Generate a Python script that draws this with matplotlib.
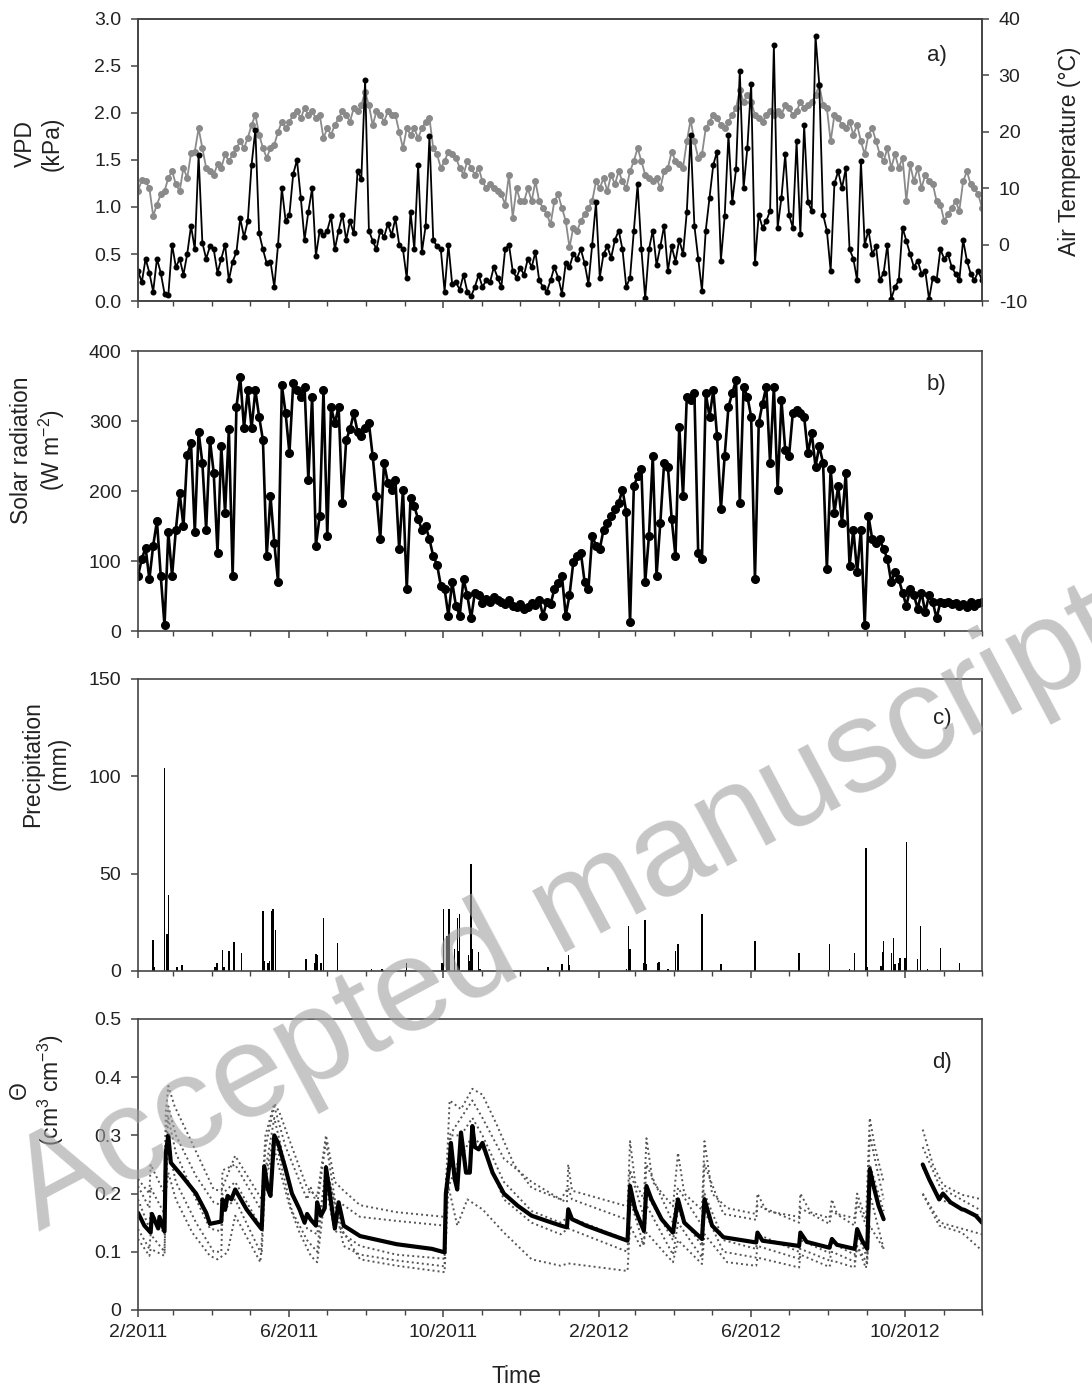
import numpy as np
import matplotlib
matplotlib.use("Agg")
import matplotlib.pyplot as plt
import matplotlib.dates as mdates
from matplotlib.ticker import FixedLocator, FuncFormatter

plt.rcParams['font.family'] = ['Liberation Sans', 'DejaVu Sans']
plt.rcParams['axes.unicode_minus'] = False
plt.rcParams['mathtext.fontset'] = 'custom'
plt.rcParams['mathtext.rm'] = 'Liberation Sans'
plt.rcParams['mathtext.it'] = 'Liberation Sans:italic'
nan = float('nan')

START = np.datetime64('2011-02-01')
END = np.datetime64('2012-12-01')

# ---------------- meteorological series (every 3rd day from 1 Feb 2011) -------------
met_days = list(range(0, 670, 3))

vpd = [0.32, 0.20, 0.45, 0.30, 0.10, 0.45, 0.30, 0.08, 0.06, 0.60,
       0.36, 0.45, 0.28, 0.50, 0.80, 0.55, 1.55, 0.62, 0.45, 0.58,
       0.55, 0.30, 0.45, 0.60, 0.22, 0.42, 0.52, 0.88, 0.68, 0.85,
       1.45, 1.82, 0.72, 0.55, 0.40, 0.42, 0.15, 0.60, 1.20, 0.85,
       0.92, 1.35, 1.50, 1.10, 0.65, 0.95, 1.20, 0.48, 0.75, 0.70,
       0.75, 0.90, 0.55, 0.75, 0.92, 0.65, 0.85, 0.72, 1.38, 1.30,
       2.35, 0.75, 0.64, 0.55, 0.75, 0.68, 0.82, 0.70, 0.88, 0.60,
       0.55, 0.24, 0.95, 0.55, 1.45, 0.52, 0.80, 1.75, 0.65, 0.58,
       0.55, 0.10, 0.60, 0.18, 0.20, 0.12, 0.28, 0.10, 0.05, 0.15,
       0.28, 0.15, 0.22, 0.20, 0.36, 0.25, 0.15, 0.55, 0.60, 0.32,
       0.25, 0.35, 0.28, 0.45, 0.36, 0.52, 0.22, 0.15, 0.10, 0.22,
       0.36, 0.25, 0.08, 0.40, 0.36, 0.50, 0.45, 0.55, 0.40, 0.18,
       0.60, 1.05, 0.25, 0.50, 0.58, 0.46, 0.65, 0.75, 0.55, 0.15,
       0.25, 0.75, 1.24, 0.55, 0.03, 0.55, 0.75, 0.38, 0.58, 0.80,
       0.32, 0.58, 0.42, 0.65, 0.50, 0.95, 1.77, 0.80, 0.45, 0.11,
       0.75, 1.10, 1.45, 1.59, 0.43, 0.90, 1.77, 1.05, 1.40, 2.45,
       1.20, 1.63, 2.31, 0.40, 0.92, 0.78, 0.85, 0.96, 2.72, 0.78,
       1.10, 1.56, 0.92, 0.78, 1.70, 0.71, 1.87, 1.05, 0.96, 2.82,
       2.30, 0.92, 0.75, 0.32, 1.25, 1.38, 1.20, 1.41, 0.55, 0.45,
       0.22, 1.49, 0.60, 0.75, 0.50, 0.58, 0.22, 0.30, 0.60, 0.02,
       0.15, 0.22, 0.78, 0.64, 0.50, 0.36, 0.43, 0.29, 0.32, 0.02,
       0.25, 0.22, 0.55, 0.45, 0.50, 0.36, 0.29, 0.22, 0.65, 0.43,
       0.29, 0.22, 0.32, 0.22]

air_temp = [9.5, 11.5, 11.2, 10.0, 5.1, 7.1, 8.9, 9.5, 11.8, 13.0,
            10.7, 9.5, 13.6, 11.8, 16.2, 16.5, 20.6, 17.1, 13.6, 13.0,
            12.4, 14.2, 13.6, 16.0, 14.8, 16.0, 17.1, 18.3, 17.1, 18.9,
            21.2, 23.0, 19.5, 17.1, 15.4, 17.1, 17.7, 20.0, 21.8, 20.6,
            21.8, 23.0, 23.6, 22.4, 24.2, 23.0, 23.6, 22.4, 23.0, 18.9,
            20.6, 19.5, 21.2, 22.4, 23.6, 23.0, 21.8, 24.2, 23.6, 24.7,
            27.1, 24.7, 21.2, 23.6, 23.0, 21.8, 23.6, 23.0, 23.0, 20.0,
            17.1, 20.6, 19.5, 20.6, 18.9, 20.6, 21.8, 22.4, 17.1, 16.0,
            13.6, 14.8, 16.5, 16.0, 15.4, 13.6, 12.4, 14.8, 13.6, 12.4,
            13.6, 11.2, 10.0, 10.7, 10.0, 9.5, 8.9, 7.1, 12.4, 4.8,
            10.0, 7.7, 7.7, 10.0, 7.7, 11.2, 7.7, 6.5, 5.4, 3.6,
            7.7, 8.9, 6.5, 4.2, -0.5, 3.0, 2.4, 4.2, 5.4, 6.5,
            7.7, 11.2, 10.0, 11.8, 9.5, 12.4, 10.7, 13.0, 11.2, 10.0,
            13.0, 14.8, 17.1, 14.8, 12.4, 11.8, 11.2, 11.8, 10.0, 13.0,
            13.6, 16.5, 14.8, 14.2, 13.6, 18.3, 22.1, 18.3, 15.4, 16.0,
            20.6, 21.8, 23.0, 22.4, 21.2, 20.6, 21.8, 23.0, 24.2, 27.4,
            25.3, 26.5, 25.3, 23.0, 22.4, 21.8, 23.0, 23.6, 23.0, 23.6,
            23.0, 24.7, 24.2, 23.0, 23.6, 25.3, 24.2, 24.7, 25.3, 26.5,
            28.3, 24.7, 24.2, 18.3, 23.0, 22.4, 21.2, 20.6, 21.8, 19.5,
            21.2, 18.3, 16.0, 19.5, 20.6, 18.3, 16.0, 14.8, 17.1, 13.6,
            16.0, 13.6, 15.4, 7.7, 14.2, 11.2, 13.6, 10.0, 12.4, 11.2,
            10.7, 7.7, 7.1, 4.2, 5.4, 6.5, 7.7, 6.0, 11.2, 13.0,
            10.7, 10.0, 8.9, 6.5]

solar = [79, 103, 119, 74, 122, 157, 79, 8, 141, 79,
         145, 197, 150, 252, 268, 141, 285, 240, 145, 273,
         226, 112, 264, 169, 288, 79, 320, 363, 290, 344,
         290, 344, 306, 273, 107, 193, 126, 70, 351, 311,
         254, 354, 344, 335, 349, 216, 335, 122, 164, 344,
         136, 320, 297, 320, 183, 273, 288, 311, 285, 278,
         290, 297, 250, 193, 131, 240, 212, 202, 216, 117,
         202, 60, 190, 178, 160, 145, 150, 131, 107, 95,
         65, 60, 22, 70, 36, 22, 74, 51, 18, 55,
         51, 40, 46, 42, 48, 44, 41, 38, 45, 36,
         34, 38, 32, 35, 40, 37, 45, 22, 42, 38,
         60, 68, 79, 22, 51, 98, 107, 112, 70, 60,
         136, 122, 117, 145, 155, 164, 174, 183, 202, 170,
         13, 207, 221, 231, 70, 136, 250, 79, 155, 240,
         235, 160, 107, 292, 193, 335, 330, 340, 112, 103,
         340, 306, 344, 278, 174, 250, 320, 340, 358, 183,
         349, 335, 306, 74, 297, 325, 349, 240, 349, 202,
         330, 259, 250, 311, 316, 311, 306, 254, 283, 235,
         264, 240, 89, 231, 169, 207, 155, 226, 93, 145,
         84, 145, 8, 164, 131, 126, 131, 117, 103, 70,
         84, 74, 55, 36, 60, 51, 32, 55, 27, 51,
         41, 18, 42, 40, 41, 38, 40, 36, 38, 35,
         42, 36, 40, 41]

# ---------------- precipitation events ------------------------------------------
precip_days = [12, 13, 21, 23, 24, 31, 35, 61, 62, 63, 67, 68, 72, 76, 82,
               99, 100, 103, 104, 106, 107, 109, 133, 140, 141, 142, 145, 147,
               158, 185, 193, 194, 213, 241, 242, 245, 246, 247, 251, 253, 254,
               255, 262, 263, 264, 265, 270, 271, 325, 336, 341, 342, 387, 389,
               390, 401, 402, 403, 412, 413, 420, 426, 428, 447, 462, 489, 524,
               548, 564, 568, 577, 578, 589, 590, 591, 597, 599, 600, 603, 604,
               608, 609, 618, 620, 626, 636, 651]
precip_mm = [16, 2, 104, 19, 39, 2, 3, 2, 4, 4, 11, 2, 10, 15, 9,
             31, 5, 4, 5, 31, 32, 21, 6, 4, 8.5, 8, 4, 27,
             14.5, 1, 1.2, 1.2, 4, 4, 32, 18, 32, 32, 11.5, 27, 10,
             29, 8, 5, 55, 11.5, 9.5, 1, 2, 3.4, 8, 3, 1, 23,
             11.5, 4, 26, 3.4, 4, 4.6, 1, 10, 13.7, 29, 3.4, 15.4, 9,
             13.7, 1, 9, 63, 2, 2.6, 9.7, 15.4, 9, 16.8, 3.4, 3.9, 6.8,
             6.8, 66, 6.3, 23, 1, 12, 4.3]

# ---------------- soil water content ------------------------------------------
theta_mean_days = [0, 5, 10, 11, 16, 17, 21, 22, 24, 26, 35, 46, 54, 57, 66, 67, 69, 71,
                   74, 77, 86, 94, 98, 100, 103, 105, 108, 111, 117, 122, 128, 132, 134,
                   137, 141, 142, 145, 148, 149, 156, 159, 163, 176, 205, 233, 243, 244,
                   247, 248, 251, 253, 256, 260, 263, 265, 267, 270, 273, 281, 290, 301,
                   312, 324, 335, 340, 341, 344, 355, 370, 388, 390, 394, 401, 403, 407,
                   415, 424, 428, 433, 447, 449, 455, 464, 490, 491, 495, 524, 525, 530,
                   548, 550, 554, 568, 570, 574, 578, 580, 583, 587, 591, 600, 622, 627,
                   635, 638, 644, 653, 655, 664, 669]
theta_mean = [0.167, 0.145, 0.133, 0.165, 0.140, 0.160, 0.135, 0.270, 0.300, 0.253, 0.230,
              0.200, 0.167, 0.148, 0.152, 0.190, 0.172, 0.196, 0.190, 0.207, 0.173, 0.150,
              0.139, 0.247, 0.207, 0.196, 0.300, 0.287, 0.242, 0.200, 0.173, 0.150, 0.165,
              0.155, 0.145, 0.185, 0.162, 0.175, 0.245, 0.140, 0.185, 0.145, 0.127, 0.113,
              0.105, 0.099, 0.200, 0.253, 0.287, 0.225, 0.207, 0.305, 0.236, 0.236, 0.316,
              0.280, 0.276, 0.287, 0.236, 0.200, 0.179, 0.162, 0.153, 0.145, 0.142, 0.173,
              0.156, 0.145, 0.133, 0.119, 0.213, 0.173, 0.136, 0.213, 0.190, 0.156, 0.133,
              0.190, 0.150, 0.122, 0.190, 0.145, 0.125, 0.116, 0.133, 0.119, 0.110, 0.133,
              0.117, 0.107, 0.122, 0.112, 0.105, 0.139, 0.119, 0.105, 0.242, 0.213, 0.179,
              0.156, nan, 0.250, 0.225, 0.190, 0.200, 0.185, 0.173, 0.172, 0.162, 0.150]

sensor_a_days = [0, 9, 10, 21, 22, 24, 29, 40, 60, 66, 77, 98, 101, 108, 112, 122, 134, 142,
                 149, 156, 163, 176, 205, 243, 247, 256, 265, 273, 284, 298, 312, 335, 340,
                 341, 344, 388, 390, 394, 401, 403, 408, 424, 428, 433, 447, 449, 455, 467,
                 490, 491, 498, 524, 525, 533, 548, 550, 554, 568, 570, 577, 580, 584, 591,
                 600, 622, 630, 638, 653, 669]
sensor_a = [0.225, 0.200, 0.250, 0.200, 0.340, 0.385, 0.350, 0.300, 0.207, 0.205, 0.265,
            0.190, 0.300, 0.355, 0.340, 0.280, 0.210, 0.195, 0.300, 0.220, 0.205, 0.180,
            0.168, 0.160, 0.360, 0.345, 0.380, 0.370, 0.320, 0.250, 0.210, 0.190, 0.185,
            0.250, 0.205, 0.178, 0.290, 0.220, 0.190, 0.295, 0.220, 0.178, 0.270, 0.200,
            0.172, 0.290, 0.200, 0.175, 0.165, 0.200, 0.170, 0.160, 0.200, 0.168, 0.158,
            0.190, 0.165, 0.158, 0.200, 0.155, 0.330, 0.280, 0.220, nan, 0.310, 0.250,
            0.215, 0.198, 0.190]

sensor_b_days = [0, 9, 10, 21, 22, 24, 30, 46, 60, 66, 67, 77, 98, 101, 108, 117, 134, 137,
                 142, 149, 156, 163, 176, 205, 243, 247, 256, 265, 273, 290, 312, 335, 341,
                 344, 388, 390, 401, 403, 424, 428, 447, 449, 464, 490, 491, 524, 525, 548,
                 550, 568, 570, 578, 580, 591, 600, 622, 636, 669]
sensor_b = [0.213, 0.175, 0.210, 0.165, 0.300, 0.350, 0.300, 0.230, 0.185, 0.180, 0.240,
            0.250, 0.170, 0.280, 0.350, 0.280, 0.190, 0.210, 0.180, 0.290, 0.190, 0.180,
            0.160, 0.153, 0.145, 0.300, 0.330, 0.360, 0.330, 0.260, 0.220, 0.190, 0.210,
            0.190, 0.155, 0.240, 0.160, 0.250, 0.150, 0.210, 0.145, 0.250, 0.165, 0.155,
            0.180, 0.150, 0.175, 0.148, 0.170, 0.145, 0.185, 0.140, 0.300, 0.190, nan,
            0.280, 0.210, 0.170]

sensor_c_days = [0, 9, 10, 21, 22, 24, 30, 46, 57, 66, 67, 77, 98, 101, 108, 122, 134, 142,
                 149, 163, 176, 205, 243, 244, 248, 256, 265, 273, 290, 312, 335, 341, 388,
                 390, 401, 403, 424, 428, 447, 449, 464, 490, 491, 524, 525, 548, 550, 568,
                 570, 578, 580, 591, 600, 622, 636, 669]
sensor_c = [0.190, 0.140, 0.170, 0.130, 0.260, 0.330, 0.270, 0.190, 0.140, 0.135, 0.200,
            0.220, 0.140, 0.240, 0.330, 0.200, 0.140, 0.130, 0.240, 0.130, 0.110, 0.095,
            0.088, 0.220, 0.300, 0.300, 0.330, 0.300, 0.220, 0.170, 0.150, 0.160, 0.120,
            0.210, 0.130, 0.200, 0.120, 0.170, 0.110, 0.200, 0.120, 0.105, 0.130, 0.100,
            0.120, 0.098, 0.115, 0.095, 0.130, 0.090, 0.250, 0.170, nan, 0.245, 0.190,
            0.160]

sensor_d_days = [0, 9, 10, 21, 22, 24, 30, 46, 60, 66, 67, 77, 98, 101, 108, 122, 134, 142,
                 149, 163, 176, 205, 243, 244, 253, 265, 273, 290, 312, 335, 341, 388, 390,
                 401, 403, 424, 428, 447, 449, 464, 490, 491, 524, 525, 548, 550, 568, 570,
                 578, 580, 591, 600, 622, 636, 669]
sensor_d = [0.139, 0.105, 0.130, 0.100, 0.220, 0.280, 0.220, 0.150, 0.100, 0.100, 0.170,
            0.190, 0.095, 0.230, 0.300, 0.170, 0.120, 0.100, 0.250, 0.110, 0.095, 0.085,
            0.075, 0.200, 0.250, 0.300, 0.280, 0.190, 0.150, 0.130, 0.140, 0.100, 0.190,
            0.110, 0.180, 0.095, 0.150, 0.090, 0.170, 0.100, 0.090, 0.110, 0.088, 0.105,
            0.085, 0.100, 0.083, 0.110, 0.080, 0.200, 0.105, nan, 0.200, 0.150, 0.130]

sensor_e_days = [0, 9, 10, 21, 22, 24, 30, 43, 57, 63, 71, 77, 97, 101, 108, 120, 128, 137,
                 142, 149, 156, 161, 176, 205, 243, 246, 253, 261, 273, 290, 312, 335, 341,
                 388, 390, 398, 403, 424, 428, 447, 449, 467, 490, 491, 524, 525, 548, 550,
                 568, 570, 577, 580, 591, 600, 622, 635, 653, 669]
sensor_e = [0.122, 0.093, 0.105, 0.093, 0.200, 0.236, 0.190, 0.133, 0.093, 0.087, 0.099,
            0.162, 0.082, 0.225, 0.276, 0.179, 0.133, 0.093, 0.082, 0.213, 0.133, 0.140,
            0.087, 0.076, 0.065, 0.213, 0.145, 0.190, 0.173, 0.133, 0.087, 0.076, 0.080,
            0.067, 0.145, 0.110, 0.133, 0.082, 0.120, 0.079, 0.130, 0.082, 0.076, 0.090,
            0.073, 0.095, 0.074, 0.085, 0.073, 0.110, 0.072, 0.145, 0.105, nan, 0.199,
            0.145, 0.133, 0.102]


def to_dates(days):
    return START + np.array(days).astype('timedelta64[D]')


# ---------------- figure ------------------------------------------------------
fig = plt.figure(figsize=(10.92, 13.93), dpi=100)
L, W = 0.1264, 0.7729
axa = fig.add_axes([L, 0.7839, W, 0.2025])
axb = fig.add_axes([L, 0.5470, W, 0.2010])
axc = fig.add_axes([L, 0.3030, W, 0.2096])
axd = fig.add_axes([L, 0.0596, W, 0.2089])

spine_col = '#444444'
txt_col = '#222222'
TICK_FS = 14
LAB_FS = 16.5


def month_fmt(x, pos=None):
    d = mdates.num2date(x)
    return f"{d.month}/{d.year}"


for ax in (axa, axb, axc, axd):
    ax.set_xlim(START, END)
    ax.xaxis.set_major_locator(mdates.MonthLocator(bymonth=[2, 6, 10]))
    ax.xaxis.set_minor_locator(mdates.MonthLocator())
    ax.xaxis.set_major_formatter(FuncFormatter(month_fmt))
    ax.tick_params(axis='both', which='major', direction='out', length=5, width=1.1,
                   color=spine_col, labelsize=TICK_FS, labelcolor=txt_col)
    ax.tick_params(axis='x', which='minor', direction='out', length=3.5, width=1.0,
                   color=spine_col)
    ax.tick_params(axis='y', which='major', pad=7)
    ax.tick_params(axis='x', which='major', pad=5)
    for s in ax.spines.values():
        s.set_color(spine_col)
        s.set_linewidth(1.2)

for ax in (axa, axb, axc):
    ax.tick_params(labelbottom=False)

# ---- panel a ----
met_dates = to_dates(met_days)
axt = axa.twinx()
axt.plot(met_dates, air_temp, color='#8a8a8a', lw=1.3, marker='o', ms=4,
         mec='#8a8a8a', mfc='#8a8a8a')
axa.plot(met_dates, vpd, color='black', lw=1.3, marker='o', ms=3.3)
axa.set_zorder(axt.get_zorder() + 1)
axa.patch.set_visible(False)
axa.set_ylim(0, 3.0)
axa.yaxis.set_major_locator(FixedLocator([0, 0.5, 1.0, 1.5, 2.0, 2.5, 3.0]))
axa.yaxis.set_major_formatter(FuncFormatter(lambda v, p: f"{v:.1f}"))
axt.set_ylim(-10, 40)
axt.yaxis.set_major_locator(FixedLocator([-10, 0, 10, 20, 30, 40]))
axt.tick_params(axis='y', direction='out', length=5, width=1.1, color=spine_col,
                labelsize=TICK_FS, labelcolor=txt_col, pad=7)
for s in axt.spines.values():
    s.set_color(spine_col)
    s.set_linewidth(1.2)
axt.set_xlim(START, END)

axa.text(-0.118, 0.557, "VPD\n(kPa)", transform=axa.transAxes, rotation=90,
         ha='center', va='center', fontsize=LAB_FS, color=txt_col, multialignment='center')
axa.text(1.104, 0.53, "Air Temperature (°C)", transform=axa.transAxes, rotation=90,
         ha='center', va='center', fontsize=LAB_FS, color=txt_col)
axa.text(0.946, 0.872, "a)", transform=axa.transAxes, ha='center', va='center',
         fontsize=16, color=txt_col)

# ---- panel b ----
axb.plot(met_dates, solar, color='black', lw=1.9, marker='o', ms=5.5)
axb.set_ylim(0, 400)
axb.yaxis.set_major_locator(FixedLocator([0, 100, 200, 300, 400]))
axb.text(-0.118, 0.646, "Solar radiation\n(W m$^{-2}$)", transform=axb.transAxes,
         rotation=90, ha='center', va='center', fontsize=LAB_FS, color=txt_col,
         multialignment='center')
axb.text(0.946, 0.879, "b)", transform=axb.transAxes, ha='center', va='center',
         fontsize=16, color=txt_col)

# ---- panel c ----
axc.bar(to_dates(precip_days), precip_mm, width=1.1, color='black', linewidth=0)
axc.set_ylim(0, 150)
axc.yaxis.set_major_locator(FixedLocator([0, 50, 100, 150]))
axc.text(-0.109, 0.71, "Precipitation\n(mm)", transform=axc.transAxes, rotation=90,
         ha='center', va='center', fontsize=LAB_FS, color=txt_col, multialignment='center')
axc.text(0.953, 0.866, "c)", transform=axc.transAxes, ha='center', va='center',
         fontsize=16, color=txt_col)

# ---- panel d ----
for dd, vv in ((sensor_a_days, sensor_a), (sensor_b_days, sensor_b),
               (sensor_c_days, sensor_c), (sensor_d_days, sensor_d),
               (sensor_e_days, sensor_e)):
    axd.plot(to_dates(dd), vv, color='#555555', lw=1.4, ls=(0, (1, 1.6)))
axd.plot(to_dates(theta_mean_days), theta_mean, color='black', lw=3.0,
         solid_capstyle='round', solid_joinstyle='round')
axd.set_ylim(0, 0.5)
axd.yaxis.set_major_locator(FixedLocator([0, 0.1, 0.2, 0.3, 0.4, 0.5]))
axd.yaxis.set_major_formatter(FuncFormatter(lambda v, p: "0" if abs(v) < 1e-9 else f"{v:.1f}"))
axd.text(-0.12, 0.756, "\u0398\n(cm$^{3}$ cm$^{-3}$)", transform=axd.transAxes,
         rotation=90, ha='center', va='center', fontsize=LAB_FS, color=txt_col,
         multialignment='center')
axd.text(0.953, 0.849, "d)", transform=axd.transAxes, ha='center', va='center',
         fontsize=16, color=txt_col)

fig.text(0.4725, 0.0115, "Time", ha='center', va='center', fontsize=LAB_FS, color=txt_col)

# watermark
fig.text(0.52, 0.345, "Accepted manuscript", rotation=28, ha='center', va='center',
         fontsize=95, color='#a0a0a0', alpha=0.6, zorder=100)

fig.savefig("out.png", dpi=100)
